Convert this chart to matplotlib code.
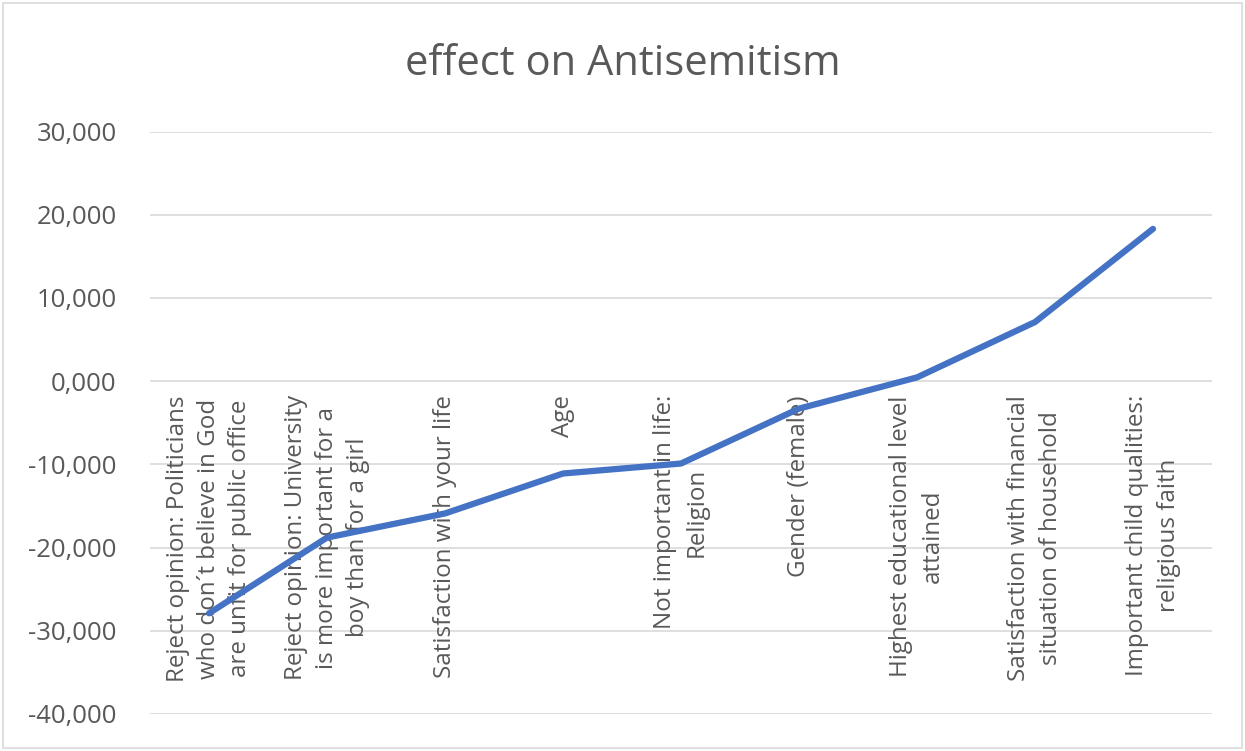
import matplotlib
matplotlib.use("Agg")
import matplotlib.pyplot as plt
import matplotlib.transforms as mtransforms
from matplotlib.ticker import FuncFormatter

# Data
categories = [
    "Reject opinion: Politicians\nwho don\u00b4t believe in God\nare unfit for public office",
    "Reject opinion: University\nis more important for a\nboy than for a girl",
    "Satisfaction with your life",
    "Age",
    "Not important in life:\nReligion",
    "Gender (female)",
    "Highest educational level\nattained",
    "Satisfaction with financial\nsituation of household",
    "Important child qualities:\nreligious faith",
]
effects = [-27900, -18800, -15900, -11100, -9900, -3300, 450, 7100, 18300]
y_ticks = [-40000, -30000, -20000, -10000, 0, 10000, 20000, 30000]

plt.rcParams['font.family'] = ['Open Sans', 'DejaVu Sans']
grey = '#595959'

fig = plt.figure(figsize=(12.45, 7.51), dpi=100)
ax = fig.add_axes([150 / 1245, 37 / 751, 1062 / 1245, 582.5 / 751])

x = list(range(len(categories)))
ax.plot(x, effects, color='#4472C4', linewidth=4.5, solid_capstyle='round', zorder=3)

ax.set_xlim(-0.5, len(categories) - 0.5)
ax.set_ylim(-40000, 30000)
ax.set_yticks(y_ticks)
ax.yaxis.set_major_formatter(FuncFormatter(lambda v, p: ("-" if v < 0 else "") + f"{abs(int(v)) // 1000},000"))
ax.tick_params(axis='y', length=0, pad=24, labelsize=18.5, labelcolor=grey)
ax.set_xticks([])
ax.grid(axis='y', color='#d9d9d9', linewidth=1.2)
ax.set_axisbelow(True)
for s in ax.spines.values():
    s.set_visible(False)

# category labels hang under the zero line
offset = mtransforms.offset_copy(ax.transData, fig=fig, x=0, y=-14, units='dots')
for i, lab in enumerate(categories):
    ax.text(i, 0, lab, rotation=90, rotation_mode='anchor', ha='right', va='center',
            multialignment='center', fontsize=17.4, color=grey, linespacing=1.4,
            transform=offset, zorder=2)

fig.text(0.5, 1 - 64 / 751, "effect on Antisemitism", ha='center', va='center',
         fontsize=30, color=grey)

# outer chart border
fig.patches.append(plt.Rectangle((3 / 1245, 3 / 751), 1 - 6 / 1245, 1 - 6 / 751,
                                 transform=fig.transFigure, fill=False,
                                 edgecolor='#d9d9d9', linewidth=1.2))

fig.savefig('out.png', dpi=100)
